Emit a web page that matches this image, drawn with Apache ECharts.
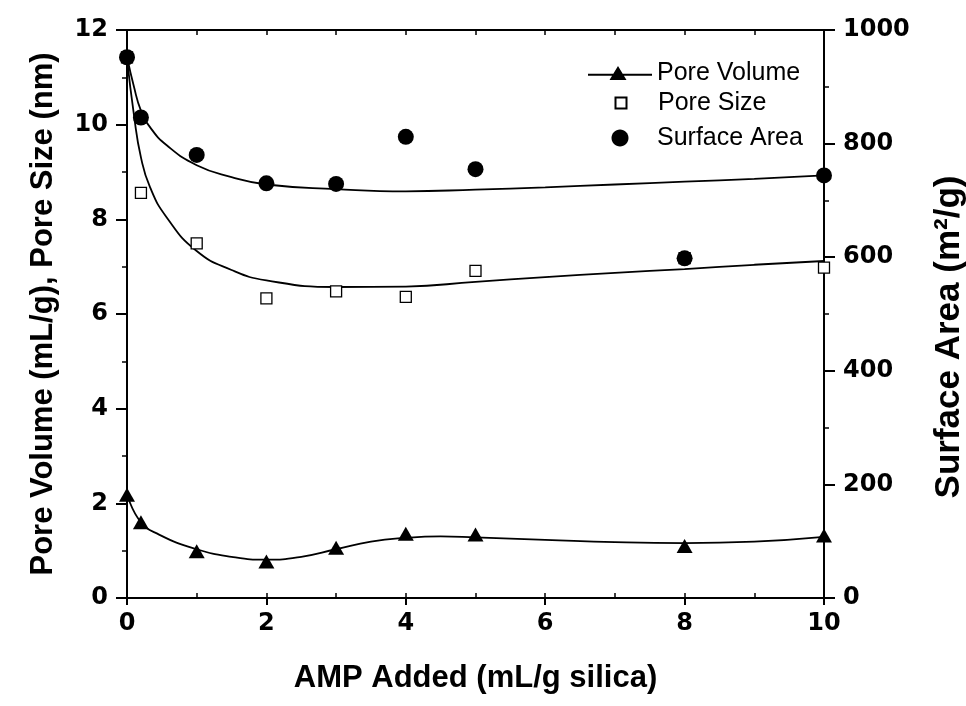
<!DOCTYPE html>
<html><head><meta charset="utf-8">
<script src="https://cdn.jsdelivr.net/npm/echarts@6/dist/echarts.min.js"></script>
<style>html,body{margin:0;padding:0;background:#fff}#c{width:966px;height:706px}</style>
</head><body><div id="c"></div>
<script>
// measured data (x = AMP added, mL/g silica)
const amp = [0, 0.2, 1, 2, 3, 4, 5, 8, 10];
const poreVolume = [2.18, 1.6, 0.99, 0.77, 1.06, 1.36, 1.34, 1.1, 1.32];
const poreSize = [11.42, 8.56, 7.49, 6.33, 6.48, 6.36, 6.91, 7.18, 6.98];
const surfaceArea = [952, 846, 780, 730, 729, 812, 755, 598, 744];

// fitted curves
const fitX = [0, 0.1, 0.2, 0.33, 0.57, 1, 1.5, 2, 3, 4, 5, 6, 7, 8, 9, 10];
const surfaceFit = [953, 900, 858, 829, 797, 762, 741, 728, 720, 716, 719, 723, 728, 733, 738, 744];
const sizeFit = [11.4, 10.2, 9.31, 8.68, 8.04, 7.33, 6.93, 6.71, 6.57, 6.58, 6.68, 6.78, 6.87, 6.95, 7.04, 7.12];
const volFitX = [0, 0.19, 0.46, 1, 1.5, 2, 2.5, 3, 3.5, 4, 4.5, 5, 6, 7, 8, 9, 10];
const volumeFit = [2.2, 1.62, 1.34, 1.03, 0.87, 0.81, 0.87, 1.03, 1.19, 1.27, 1.30, 1.28, 1.23, 1.18, 1.16, 1.19, 1.29];

// axis ticks
const xTicks = [0, 2, 4, 6, 8, 10];
const leftTicks = [0, 2, 4, 6, 8, 10, 12];
const rightTicks = [0, 200, 400, 600, 800, 1000];

const pair = (xs, ys) => xs.map((x, i) => [x, ys[i]]);
const tickFont = { fontFamily: 'DejaVu Sans', fontWeight: 'bold', fontSize: 24, color: '#000' };
const titleFont = { fontFamily: 'Liberation Sans', fontWeight: 'bold', fontSize: 31, color: '#000' };
const legendText = { fontFamily: 'Liberation Sans', fontSize: 25, color: '#000', lineHeight: 26 };
const axLine = { show: true, onZero: false, lineStyle: { color: '#000', width: 2 } };

// legend icons (bounding box fixed to the item box by corner move-to points)
const iconVolume = 'path://M0,0 M64,14 M0,7.8 L64,7.8 L64,9.8 L0,9.8 Z M30,0 L38.5,14 L21.5,14 Z';
const iconSize = 'path://M0,0 M64,17 M26.5,3 L37.5,3 L37.5,14 L26.5,14 Z';
const iconArea = 'path://M0,0 M64,17 M32,0 C36.69,0 40.5,3.81 40.5,8.5 C40.5,13.19 36.69,17 32,17 C27.31,17 23.5,13.19 23.5,8.5 C23.5,3.81 27.31,0 32,0 Z';

const legendBase = { left: 588, itemWidth: 64, padding: 0, selectedMode: false, textStyle: legendText, symbolKeepAspect: false };
const fitLine = { color: '#000', width: 1.8 };

const chart = echarts.init(document.getElementById('c'), null, { renderer: 'canvas' });
chart.setOption({
  animation: false,
  backgroundColor: '#fff',
  grid: { left: 127, right: 142, top: 30, bottom: 108, containLabel: false, outerBoundsMode: 'none' },
  legend: [
    Object.assign({ data: [{ name: 'Pore Volume', icon: iconVolume }], top: 60, itemHeight: 14 }, legendBase),
    Object.assign({ data: [{ name: 'Pore Size', icon: iconSize }], top: 90, itemHeight: 17 }, legendBase),
    Object.assign({ data: [{ name: 'Surface Area', icon: iconArea }], top: 125, itemHeight: 17 }, legendBase)
  ],
  xAxis: [
    { type: 'value', position: 'bottom', min: xTicks[0], max: xTicks[xTicks.length - 1], interval: xTicks[1] - xTicks[0],
      axisLine: axLine, splitLine: { show: false },
      axisTick: { inside: false, length: 7, lineStyle: { color: '#000', width: 2 } },
      axisLabel: Object.assign({ margin: 14 }, tickFont),
      name: 'AMP Added (mL/g silica)', nameLocation: 'middle', nameGap: 65, nameTextStyle: titleFont },
    { type: 'value', position: 'bottom', min: 0, max: 10, interval: 1,
      axisLine: { show: false, onZero: false }, splitLine: { show: false }, axisLabel: { show: false },
      axisTick: { inside: true, length: 5, lineStyle: { color: '#000', width: 1.5 } } },
    { type: 'value', position: 'top', min: 0, max: 10, interval: 1,
      axisLine: axLine, splitLine: { show: false }, axisLabel: { show: false },
      axisTick: { inside: true, length: 5, lineStyle: { color: '#000', width: 1.5 } } }
  ],
  yAxis: [
    { type: 'value', position: 'left', min: leftTicks[0], max: leftTicks[leftTicks.length - 1], interval: leftTicks[1] - leftTicks[0],
      axisLine: axLine, splitLine: { show: false },
      axisTick: { inside: false, length: 11, lineStyle: { color: '#000', width: 2 } },
      minorTick: { show: true, splitNumber: 2, length: 5, lineStyle: { color: '#000', width: 1.5 } },
      minorSplitLine: { show: false },
      axisLabel: Object.assign({ margin: 19 }, tickFont),
      name: 'Pore Volume (mL/g), Pore Size (nm)', nameLocation: 'middle', nameGap: 68, nameTextStyle: titleFont },
    { type: 'value', position: 'right', min: rightTicks[0], max: rightTicks[rightTicks.length - 1], interval: rightTicks[1] - rightTicks[0],
      axisLine: axLine, splitLine: { show: false },
      axisTick: { inside: false, length: 11, lineStyle: { color: '#000', width: 2 } },
      minorTick: { show: true, splitNumber: 2, length: 5, lineStyle: { color: '#000', width: 1.5 } },
      minorSplitLine: { show: false },
      axisLabel: Object.assign({ margin: 19, formatter: v => String(v) }, tickFont),
      name: 'Surface Area (m²/g)', nameLocation: 'middle', nameGap: 108,
      nameTextStyle: Object.assign({}, titleFont, { fontSize: 35, padding: [0, 46, 0, 0] }) }
  ],
  series: [
    { name: 'volFit', type: 'line', data: pair(volFitX, volumeFit), smooth: true, symbol: 'none', silent: true,
      lineStyle: fitLine, yAxisIndex: 0, z: 1 },
    { name: 'sizeFit', type: 'line', data: pair(fitX, sizeFit), smooth: true, symbol: 'none', silent: true,
      lineStyle: fitLine, yAxisIndex: 0, z: 1 },
    { name: 'surfFit', type: 'line', data: pair(fitX, surfaceFit), smooth: true, symbol: 'none', silent: true,
      lineStyle: fitLine, yAxisIndex: 1, z: 1 },
    { name: 'Pore Volume', type: 'scatter', data: pair(amp, poreVolume), symbol: 'triangle', symbolSize: [16, 14],
      itemStyle: { color: '#000', opacity: 1 }, yAxisIndex: 0, z: 3 },
    { name: 'Pore Size', type: 'scatter', data: pair(amp, poreSize), symbol: 'rect', symbolSize: 11,
      itemStyle: { color: '#fff', borderColor: '#000', borderWidth: 1.3, opacity: 1 }, yAxisIndex: 0, z: 3 },
    { name: 'Surface Area', type: 'scatter', data: pair(amp, surfaceArea), symbol: 'circle', symbolSize: 16,
      itemStyle: { color: '#000', opacity: 1 }, yAxisIndex: 1, z: 4 }
  ]
});
</script>
</body></html>
